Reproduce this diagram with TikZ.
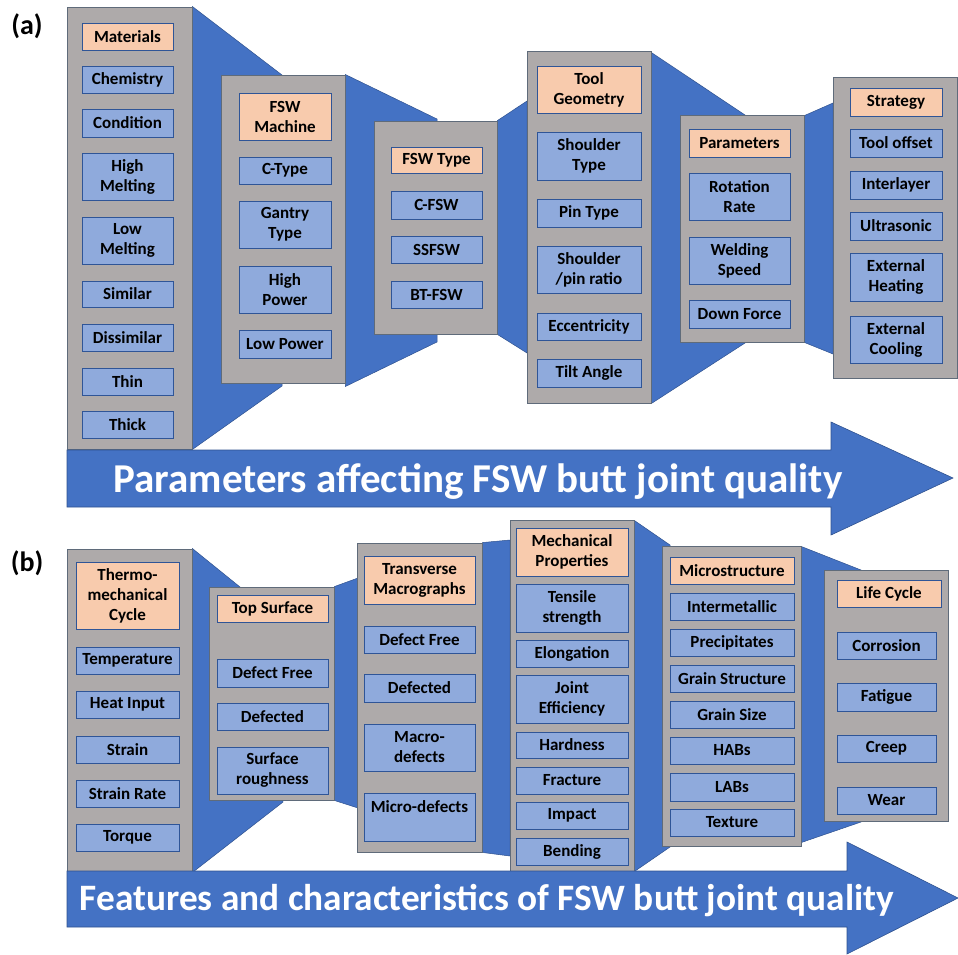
\documentclass[tikz,border=0pt]{standalone}
\usepackage{fontspec}
\setmainfont{Carlito}
\definecolor{arrowblue}{HTML}{4472C4}
\definecolor{trapborder}{HTML}{2F528F}
\definecolor{colgray}{HTML}{AEAAAA}
\definecolor{colborder}{HTML}{5F6B7A}
\definecolor{boxblue}{HTML}{8FAADC}
\definecolor{boxborder}{HTML}{2F5597}
\definecolor{headorange}{HTML}{F8CBAD}
\pgfdeclarelayer{bg}
\pgfsetlayers{bg,main}
\tikzset{
  colbox/.style={draw=colborder, fill=colgray, line width=0.9pt, inner sep=0pt},
  itembox/.style={draw=boxborder, fill=boxblue, line width=1pt, inner sep=0pt,
    align=center, text=black, font=\fontsize{17}{20}\selectfont\bfseries},
  headbox/.style={itembox, fill=headorange},
  trap/.style={fill=arrowblue, draw=trapborder, line width=0.5pt},
  bigarrow/.style={fill=arrowblue, draw=trapborder, line width=0.6pt},
  arrowtext/.style={text=white, inner sep=0pt, anchor=base},
  panellabel/.style={font=\fontsize{28}{30}\selectfont\bfseries, inner sep=0pt}
}
\newcommand\bx[7]{%
  \pgfmathsetmacro\bxw{#4-#2}\pgfmathsetmacro\bxh{#5-#3}%
  \node[#1, minimum width=\bxw pt, minimum height=\bxh pt] (#6) at ({(#2+#4)/2},{(#3+#5)/2}) {#7};}
\begin{document}
\begin{tikzpicture}[x=1pt,y=-1pt]
\useasboundingbox (0,0) rectangle (958,954);

% ---------------- panel (a) ----------------
\node[panellabel] (la) at (27,26) {(a)};
\bx{colbox}{67}{7}{192}{449}{a1}{}
\bx{colbox}{221}{75}{345}{383}{a2}{}
\bx{colbox}{374}{121}{497}{334}{a3}{}
\bx{colbox}{527}{51}{651}{403}{a4}{}
\bx{colbox}{680}{115}{804}{342}{a5}{}
\bx{colbox}{833}{77}{957}{378}{a6}{}

\begin{pgfonlayer}{bg}
  \coordinate (t1a) at (282,75);  \coordinate (t1b) at (282,386);
  \coordinate (t2a) at (437,119); \coordinate (t2b) at (437,342);
  \coordinate (t3a) at (527,101); \coordinate (t3b) at (527,353);
  \coordinate (t4a) at (745,115); \coordinate (t4b) at (745,343);
  \coordinate (t5a) at (833,103); \coordinate (t5b) at (833,354);
  \fill[trap] (a1.north east) -- (t1a) -- (t1b) -- (a1.south east) -- cycle;
  \fill[trap] (a2.north east) -- (t2a) -- (t2b) -- ([yshift=-3pt]a2.south east) -- cycle;
  \fill[trap] (a3.north east) -- (t3a) -- (t3b) -- (a3.south east) -- cycle;
  \fill[trap] ([yshift=-2pt]a4.north east) -- (t4a) -- (t4b) -- (a4.south east) -- cycle;
  \fill[trap] ([yshift=-1pt]a5.north east) -- (t5a) -- (t5b) -- (a5.south east) -- cycle;
\end{pgfonlayer}

\bx{headbox}{82}{23}{173}{50}{a1h}{Materials}
\bx{itembox}{82}{66}{173}{93}{a1i1}{Chemistry}
\bx{itembox}{82}{109}{173}{137}{a1i2}{Condition}
\bx{itembox}{82}{153}{173}{200}{a1i3}{High\\Melting}
\bx{itembox}{82}{217}{173}{264}{a1i4}{Low\\Melting}
\bx{itembox}{82}{281}{173}{307}{a1i5}{Similar}
\bx{itembox}{82}{324}{173}{351}{a1i6}{Dissimilar}
\bx{itembox}{82}{368}{173}{395}{a1i7}{Thin}
\bx{itembox}{82}{411}{173}{438}{a1i8}{Thick}

\bx{headbox}{239}{93}{331}{140}{a2h}{FSW\\Machine}
\bx{itembox}{239}{157}{331}{184}{a2i1}{C-Type}
\bx{itembox}{239}{201}{331}{248}{a2i2}{Gantry\\Type}
\bx{itembox}{239}{266}{331}{313}{a2i3}{High\\Power}
\bx{itembox}{239}{330}{331}{358}{a2i4}{Low Power}

\bx{headbox}{391}{147}{482}{173}{a3h}{FSW Type}
\bx{itembox}{391}{191}{482}{219}{a3i1}{C-FSW}
\bx{itembox}{391}{236}{482}{263}{a3i2}{SSFSW}
\bx{itembox}{391}{281}{482}{308}{a3i3}{BT-FSW}

\bx{headbox}{537}{66}{641}{113}{a4h}{Tool\\Geometry}
\bx{itembox}{537}{132}{641}{180}{a4i1}{Shoulder\\Type}
\bx{itembox}{537}{199}{641}{227}{a4i2}{Pin Type}
\bx{itembox}{537}{246}{641}{293}{a4i3}{Shoulder\\/pin ratio}
\bx{itembox}{537}{313}{641}{340}{a4i4}{Eccentricity}
\bx{itembox}{537}{359}{641}{387}{a4i5}{Tilt Angle}

\bx{headbox}{689}{129}{790}{157}{a5h}{Parameters}
\bx{itembox}{689}{173}{790}{220}{a5i1}{Rotation\\Rate}
\bx{itembox}{689}{237}{790}{284}{a5i2}{Welding\\Speed}
\bx{itembox}{689}{300}{790}{328}{a5i3}{Down Force}

\bx{headbox}{850}{88}{942}{116}{a6h}{Strategy}
\bx{itembox}{850}{129}{942}{157}{a6i1}{Tool offset}
\bx{itembox}{850}{171}{942}{199}{a6i2}{Interlayer}
\bx{itembox}{850}{212}{942}{240}{a6i3}{Ultrasonic}
\bx{itembox}{850}{253}{942}{301}{a6i4}{External\\Heating}
\bx{itembox}{850}{316}{942}{363}{a6i5}{External\\Cooling}

\coordinate (A0) at (67,450);  \coordinate (A1) at (831,450);
\coordinate (A2) at (831,422); \coordinate (A3) at (953,478);
\coordinate (A4) at (831,535); \coordinate (A5) at (831,507);
\coordinate (A6) at (67,507);
\draw[bigarrow] (A0) -- (A1) -- (A2) -- (A3) -- (A4) -- (A5) -- (A6) -- cycle;
\node[arrowtext, font=\fontsize{41}{43}\selectfont\bfseries] (ta) at (478,492) {Parameters affecting FSW butt joint quality};

% ---------------- panel (b) ----------------
\node[panellabel] (lb) at (27,563) {(b)};
\bx{colbox}{67}{549}{192}{872}{b1}{}
\bx{colbox}{209}{587}{334}{800}{b2}{}
\bx{colbox}{357}{543}{482}{852}{b3}{}
\bx{colbox}{510}{520}{634}{871}{b4}{}
\bx{colbox}{662}{546}{801}{846}{b5}{}
\bx{colbox}{824}{570}{948}{821}{b6}{}

\begin{pgfonlayer}{bg}
  \coordinate (u1a) at (240,587); \coordinate (u1b) at (283,802);
  \coordinate (u2a) at (358,578); \coordinate (u2b) at (358,808);
  \coordinate (u3a) at (510,540); \coordinate (u3b) at (510,856);
  \coordinate (u4a) at (670,545); \coordinate (u4b) at (670,847);
  \coordinate (u5a) at (861,570); \coordinate (u5b) at (861,822);
  \fill[trap] (b1.north east) -- (u1a) -- (u1b) -- (b1.south east) -- cycle;
  \fill[trap] (b2.north east) -- (u2a) -- (u2b) -- (b2.south east) -- cycle;
  \fill[trap] (b3.north east) -- (u3a) -- (u3b) -- (b3.south east) -- cycle;
  \fill[trap] ([yshift=-1pt]b4.north east) -- (u4a) -- (u4b) -- (b4.south east) -- cycle;
  \fill[trap] ([yshift=-1pt]b5.north east) -- (u5a) -- (u5b) -- ([yshift=4pt]b5.south east) -- cycle;
\end{pgfonlayer}

\bx{headbox}{76}{562}{179}{629}{b1h}{Thermo-\\mechanical\\Cycle}
\bx{itembox}{76}{647}{179}{674}{b1i1}{Temperature}
\bx{itembox}{76}{691}{179}{718}{b1i2}{Heat Input}
\bx{itembox}{76}{736}{179}{763}{b1i3}{Strain}
\bx{itembox}{76}{780}{179}{807}{b1i4}{Strain Rate}
\bx{itembox}{76}{824}{179}{851}{b1i5}{Torque}

\bx{headbox}{217}{595}{328}{622}{b2h}{Top Surface}
\bx{itembox}{217}{659}{328}{687}{b2i1}{Defect Free}
\bx{itembox}{217}{703}{328}{730}{b2i2}{Defected}
\bx{itembox}{217}{747}{328}{794}{b2i3}{Surface\\roughness}

\bx{headbox}{364}{556}{475}{604}{b3h}{Transverse\\Macrographs}
\bx{itembox}{364}{626}{475}{653}{b3i1}{Defect Free}
\bx{itembox}{364}{674}{475}{702}{b3i2}{Defected}
\bx{itembox}{364}{724}{475}{771}{b3i3}{Macro-\\defects}
\bx{itembox}{364}{793}{475}{841}{b3i4}{Micro-defects\\\mbox{}}

\bx{headbox}{516}{528}{628}{576}{b4h}{Mechanical\\Properties}
\bx{itembox}{516}{584}{628}{632}{b4i1}{Tensile\\strength}
\bx{itembox}{516}{640}{628}{667}{b4i2}{Elongation}
\bx{itembox}{516}{675}{628}{723}{b4i3}{Joint\\Efficiency}
\bx{itembox}{516}{732}{628}{758}{b4i4}{Hardness}
\bx{itembox}{516}{767}{628}{794}{b4i5}{Fracture}
\bx{itembox}{516}{802}{628}{829}{b4i6}{Impact}
\bx{itembox}{516}{838}{628}{865}{b4i7}{Bending}

\bx{headbox}{670}{557}{794}{584}{b5h}{Microstructure}
\bx{itembox}{670}{593}{794}{620}{b5i1}{Intermetallic}
\bx{itembox}{670}{629}{794}{656}{b5i2}{Precipitates}
\bx{itembox}{670}{665}{794}{692}{b5i3}{Grain Structure}
\bx{itembox}{670}{701}{794}{728}{b5i4}{Grain Size}
\bx{itembox}{670}{737}{794}{764}{b5i5}{HABs}
\bx{itembox}{670}{773}{794}{801}{b5i6}{LABs}
\bx{itembox}{670}{809}{794}{836}{b5i7}{Texture}

\bx{headbox}{837}{580}{941}{607}{b6h}{Life Cycle}
\bx{itembox}{837}{632}{936}{659}{b6i1}{Corrosion}
\bx{itembox}{837}{683}{936}{711}{b6i2}{Fatigue}
\bx{itembox}{837}{735}{936}{762}{b6i3}{Creep}
\bx{itembox}{837}{787}{936}{814}{b6i4}{Wear}

\coordinate (B0) at (67,871);  \coordinate (B1) at (847,871);
\coordinate (B2) at (847,842); \coordinate (B3) at (958,898);
\coordinate (B4) at (847,954); \coordinate (B5) at (847,927);
\coordinate (B6) at (67,927);
\draw[bigarrow] (B0) -- (B1) -- (B2) -- (B3) -- (B4) -- (B5) -- (B6) -- cycle;
\node[arrowtext, font=\fontsize{37.3}{40}\selectfont\bfseries] (tb) at (487,910) {Features and characteristics of FSW butt joint quality};
\end{tikzpicture}
\end{document}
